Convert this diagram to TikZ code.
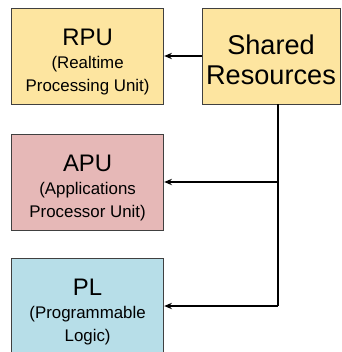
\documentclass[tikz,border=0pt]{standalone}
\usepackage{fontspec}
\setmainfont{Liberation Sans}
\usepackage{tikz}
\usepackage{xcolor}
\usetikzlibrary{arrows.meta, positioning}
\definecolor{ZynqGold}{HTML}{FDE5A0}
\definecolor{ZynqRose}{HTML}{E6B8B7}
\definecolor{ZynqAqua}{HTML}{B7DEE8}
\definecolor{ZynqEdge}{HTML}{404040}
\definecolor{ZynqBlack}{HTML}{000000}
\newcommand{\bigtxt}{\fontsize{17}{19}\selectfont\rule{0pt}{20.5pt}}
\newcommand{\smalltxt}{\fontsize{12}{16.4}\selectfont}
\tikzset{
    % Box styles - sharp corners, thin grey edge
    unitbox/.style={
        rectangle,
        draw=ZynqEdge,
        line width=0.6pt,
        minimum width=3.81cm,
        minimum height=2.4cm,
        align=center,
        inner sep=0pt,
        font=\smalltxt
    },
    sharedbox/.style={
        unitbox,
        fill=ZynqGold,
        minimum width=3.45cm,
        font=\fontsize{19.3}{21.5}\selectfont
    },
    % Connector styles
    arrow/.style={
        -{Stealth[length=5.5pt, width=4.5pt]},
        line width=0.9pt,
        draw=ZynqBlack
    },
    busline/.style={
        line width=0.9pt,
        draw=ZynqBlack
    }
}

\begin{document}
\begin{tikzpicture}
    \useasboundingbox (0,0) rectangle (8.55,-8.8);
    \clip (0,0) rectangle (8.55,-8.8);

    % Processing units on the left
    \node[unitbox, fill=ZynqGold] (rpu) at (2.19,-1.4) {\bigtxt RPU\\(Realtime\\Processing Unit)};
    \node[unitbox, fill=ZynqRose] (apu) at (2.19,-4.55) {\bigtxt APU\\(Applications\\Processor Unit)};
    \node[unitbox, fill=ZynqAqua] (pl) at (2.19,-7.65) {\bigtxt PL\\(Programmable\\Logic)};

    % Shared resources on the right
    \node[sharedbox] (shared) at (6.775,-1.4) {\rule{0pt}{19.5pt}Shared\\Resources};

    % Connections
    \coordinate (bus) at (6.95,-7.65);
    \draw[arrow] (shared.west) -- (rpu.east);
    \draw[busline] (shared.south -| bus) -- (bus);
    \draw[arrow] (bus |- apu.east) -- (apu.east);
    \draw[arrow] (bus) -- (pl.east);
\end{tikzpicture}
\end{document}
